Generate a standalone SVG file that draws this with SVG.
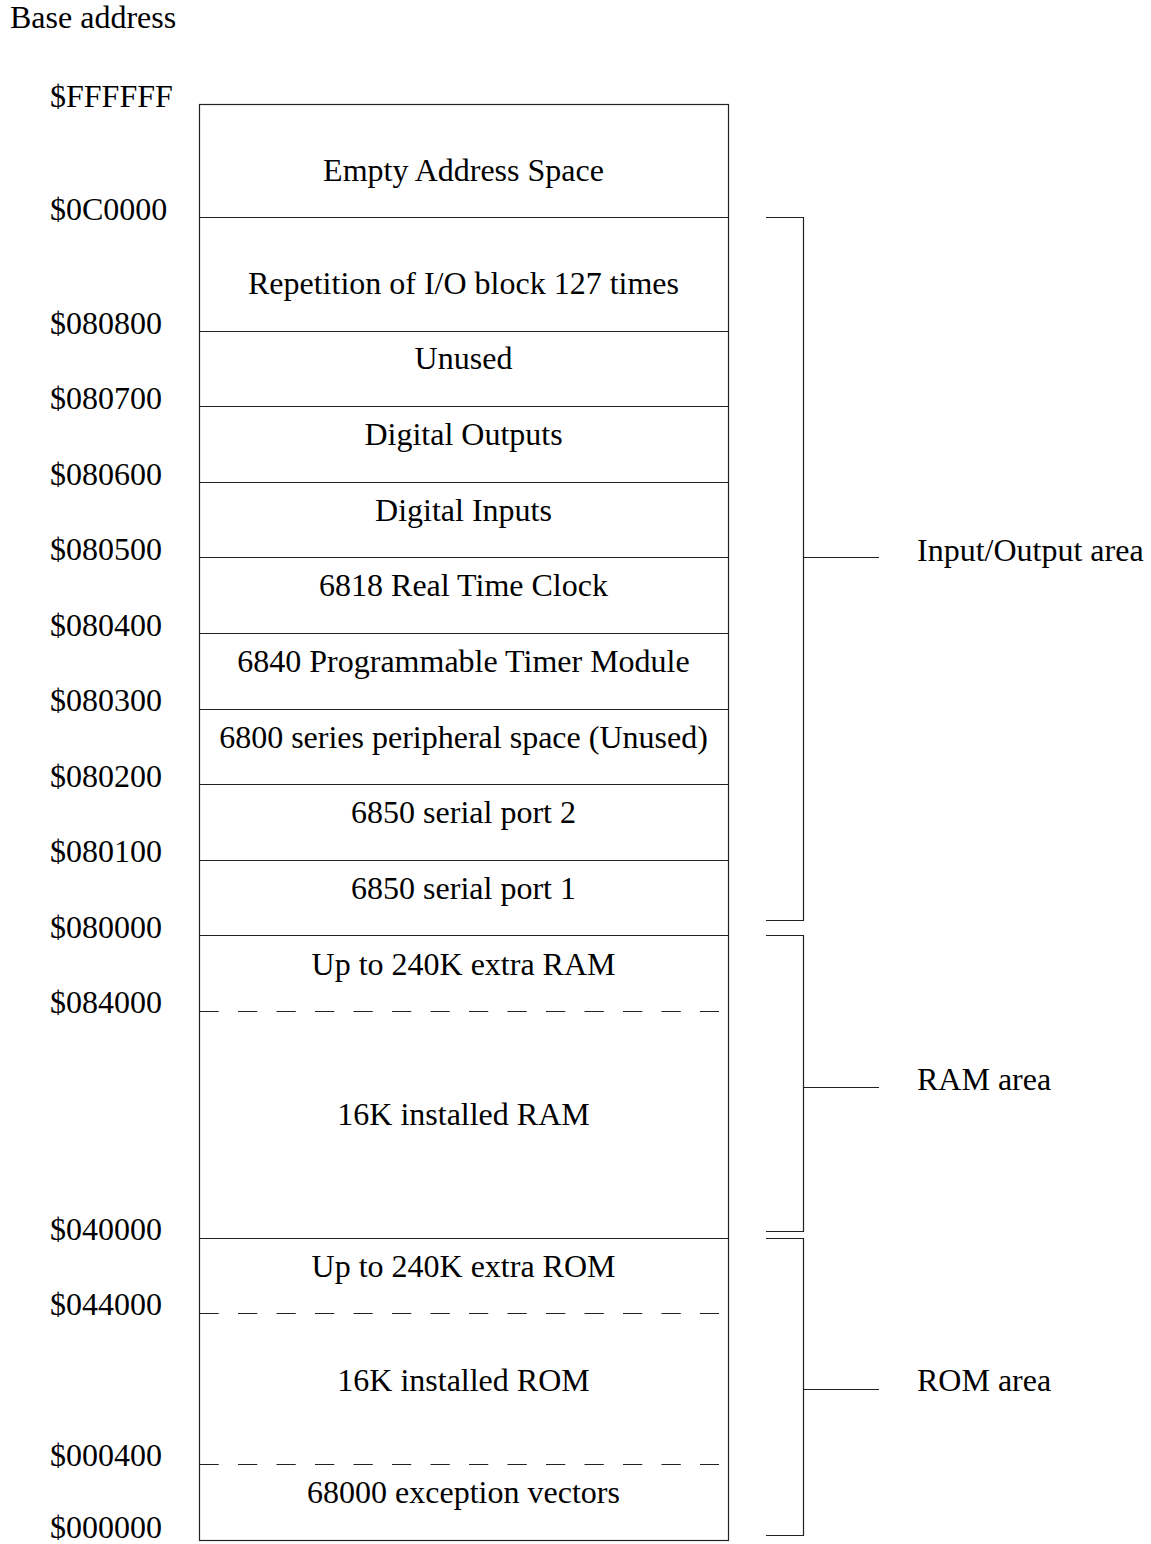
<svg xmlns="http://www.w3.org/2000/svg" width="1151" height="1544" viewBox="0 0 1151 1544">
<style>
text{font-family:"Liberation Serif","Times New Roman",serif;font-size:32px;fill:#000}
.c{text-anchor:middle}
.ln{stroke:#222;stroke-width:1.2;fill:none}
.ds{stroke:#222;stroke-width:1.2;fill:none;stroke-dasharray:19.25 19.25}
</style>
<rect width="1151" height="1544" fill="#fff"/>
<text x="10" y="28">Base address</text>
<g id="addresses">
<text x="50" y="107">$FFFFFF</text>
<text x="50" y="220">$0C0000</text>
<text x="50" y="334">$080800</text>
<text x="50" y="409">$080700</text>
<text x="50" y="485">$080600</text>
<text x="50" y="560">$080500</text>
<text x="50" y="636">$080400</text>
<text x="50" y="711">$080300</text>
<text x="50" y="787">$080200</text>
<text x="50" y="862">$080100</text>
<text x="50" y="938">$080000</text>
<text x="50" y="1013">$084000</text>
<text x="50" y="1240">$040000</text>
<text x="50" y="1315">$044000</text>
<text x="50" y="1466">$000400</text>
<text x="50" y="1538">$000000</text>
</g>
<g id="memory-map">
<rect class="ln" x="199.5" y="104.5" width="529" height="1436"/>
<g id="empty"><line class="ln" x1="199.5" y1="217.5" x2="728.5" y2="217.5"/><text class="c" x="463.5" y="181">Empty Address Space</text></g>
<g id="repetition"><line class="ln" x1="199.5" y1="331.5" x2="728.5" y2="331.5"/><text class="c" x="463.5" y="294">Repetition of I/O block 127 times</text></g>
<g id="unused"><line class="ln" x1="199.5" y1="406.5" x2="728.5" y2="406.5"/><text class="c" x="463.5" y="369">Unused</text></g>
<g id="dout"><line class="ln" x1="199.5" y1="482.5" x2="728.5" y2="482.5"/><text class="c" x="463.5" y="445">Digital Outputs</text></g>
<g id="din"><line class="ln" x1="199.5" y1="557.5" x2="728.5" y2="557.5"/><text class="c" x="463.5" y="521">Digital Inputs</text></g>
<g id="rtc"><line class="ln" x1="199.5" y1="633.5" x2="728.5" y2="633.5"/><text class="c" x="463.5" y="596">6818 Real Time Clock</text></g>
<g id="ptm"><line class="ln" x1="199.5" y1="709.5" x2="728.5" y2="709.5"/><text class="c" x="463.5" y="672">6840 Programmable Timer Module</text></g>
<g id="periph"><line class="ln" x1="199.5" y1="784.5" x2="728.5" y2="784.5"/><text class="c" x="463.5" y="748">6800 series peripheral space (Unused)</text></g>
<g id="serial2"><line class="ln" x1="199.5" y1="860.5" x2="728.5" y2="860.5"/><text class="c" x="463.5" y="823">6850 serial port 2</text></g>
<g id="serial1"><line class="ln" x1="199.5" y1="935.5" x2="728.5" y2="935.5"/><text class="c" x="463.5" y="899">6850 serial port 1</text></g>
<g id="extra-ram"><line class="ds" x1="199.5" y1="1011.5" x2="719" y2="1011.5"/><text class="c" x="463.5" y="975">Up to 240K extra RAM</text></g>
<g id="ram"><line class="ln" x1="199.5" y1="1238.5" x2="728.5" y2="1238.5"/><text class="c" x="463.5" y="1125">16K installed RAM</text></g>
<g id="extra-rom"><line class="ds" x1="199.5" y1="1313.5" x2="719" y2="1313.5"/><text class="c" x="463.5" y="1277">Up to 240K extra ROM</text></g>
<g id="rom"><line class="ds" x1="199.5" y1="1464.5" x2="719" y2="1464.5"/><text class="c" x="463.5" y="1391">16K installed ROM</text></g>
<g id="vectors"><text class="c" x="463.5" y="1503">68000 exception vectors</text></g>
</g>
<g id="connectors">
<path class="ln" d="M766 217.5H803.5V920.5H766"/>
<path class="ln" d="M803.5 557.5H879"/>
<path class="ln" d="M766 935.5H803.5V1231.5H766"/>
<path class="ln" d="M803.5 1087.5H879"/>
<path class="ln" d="M766 1238.5H803.5V1535.5H766"/>
<path class="ln" d="M803.5 1389.5H879"/>
</g>
<g id="io-label"><text x="917" y="561">Input/Output area</text></g>
<g id="ram-label"><text x="917" y="1090">RAM area</text></g>
<g id="rom-label"><text x="917" y="1391">ROM area</text></g>
</svg>
